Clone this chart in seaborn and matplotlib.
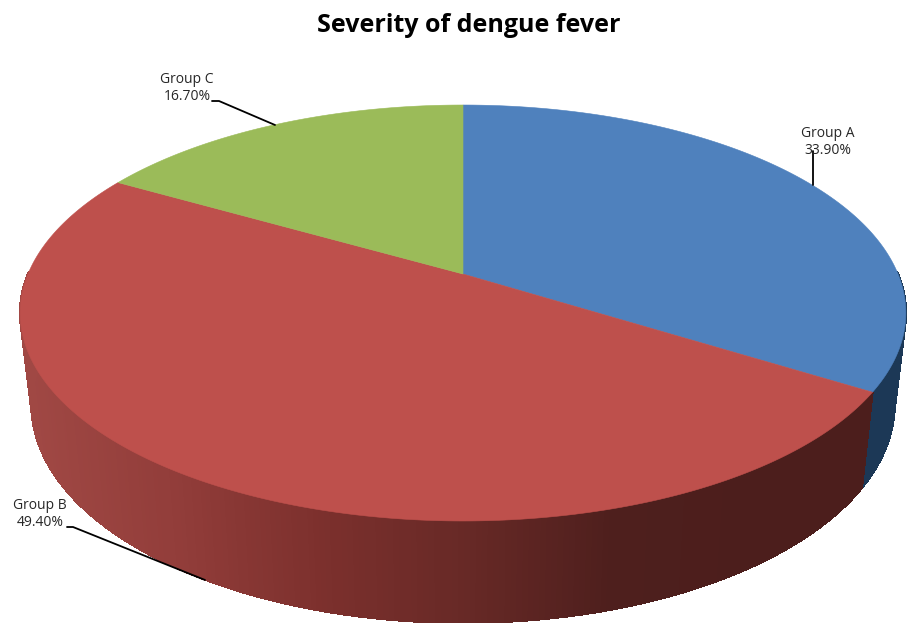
import numpy as np
import matplotlib
matplotlib.use("Agg")
import matplotlib.pyplot as plt
import seaborn as sns

# data
groups = ["Group A", "Group B", "Group C"]
percent = [33.9, 49.4, 16.7]
title = "Severity of dengue fever"

# colours
top_colors = ["#4F81BD", "#BE504C", "#9BBB59"]
wall_colors = [
    ["#1B3654", "#1C3856"],
    ["#A04844", "#923D3A", "#7C302D", "#672926", "#4E1F1D", "#4C1E1C", "#4C1E1C"],
    ["#5D7335", "#5D7335"],
]

sns.set_theme(style="white")
plt.rcParams["font.family"] = ["Open Sans", "DejaVu Sans"]

fig, ax = plt.subplots(figsize=(9.07, 6.23), dpi=100)
fig.subplots_adjust(0, 0, 1, 1)
ax.set_xlim(0, 907)
ax.set_ylim(623, 0)
ax.axis("off")

# perspective of the tilted disc
CX = 463
K = 0.1875


def project(theta, c, b, a):
    x = np.sin(theta)
    y = np.cos(theta)
    d = 1 + K * y
    return CX + c * x / d, (b - a * y) / d


def top_edge(theta):
    return project(theta, 435, 274, 149.3)


def bottom_edge(theta):
    return project(theta, 423.7, 364, 142)


edges = np.cumsum([0] + percent) / sum(percent) * 2 * np.pi

# side wall first, only the part facing the viewer
for i in range(len(percent)):
    start, end = edges[i], edges[i + 1]
    n = max(int((end - start) * 90), 2)
    angles = np.linspace(start, end, n + 1)
    cmap = sns.blend_palette(wall_colors[i], as_cmap=True)
    for a0, a1 in zip(angles[:-1], angles[1:]):
        if np.cos(a0) > 0 and np.cos(a1) > 0:
            continue
        x0, y0 = top_edge(np.array([a0, a1]))
        x1, y1 = bottom_edge(np.array([a1, a0]))
        xs = np.r_[x0, x1]
        ys = np.r_[y0, y1]
        shade = cmap(np.clip((xs.mean() - 30) / 870, 0, 1))
        ax.fill(xs, ys, color=shade, lw=1.0, antialiased=False)

# top faces
for i in range(len(percent)):
    angles = np.linspace(edges[i], edges[i + 1], 300)
    x, y = top_edge(angles)
    ax.fill(np.r_[CX, x], np.r_[274, y], color=top_colors[i], lw=0.4)

# title and labels
ax.text(469, 25, title, ha="center", va="center", fontsize=18, fontweight="bold",
        color="black")

label_pos = [(828, 142), (40, 514), (187, 88)]
for name, val, (lx, ly) in zip(groups, percent, label_pos):
    ax.text(lx, ly, f"{name}\n{val:.2f}%", ha="center", va="center", fontsize=10,
            color="#262626", linespacing=1.25)

# leader lines
ax.plot([813, 813], [151, 185], color="black", lw=1.3)
ax.plot([67, 73, 205], [527, 527, 580], color="black", lw=1.3)
ax.plot([212, 219, 275], [101, 101, 125], color="black", lw=1.3)

fig.savefig("out.png", dpi=100, facecolor="white")
